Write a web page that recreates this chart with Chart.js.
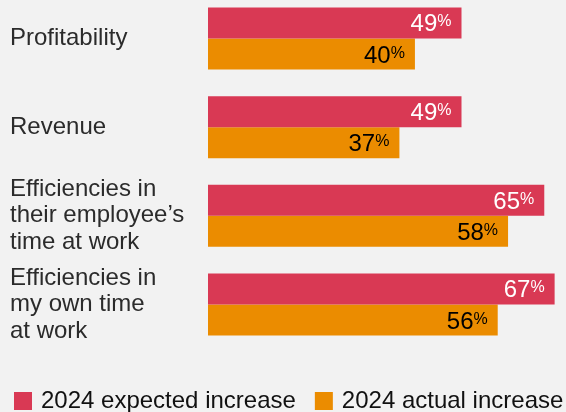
<!DOCTYPE html>
<html>
<head>
<meta charset="utf-8">
<script src="https://cdn.jsdelivr.net/npm/chart.js@4/dist/chart.umd.min.js"></script>
<style>
html, body { margin: 0; padding: 0; background: #f2f2f2; }
#wrap { width: 566px; height: 412px; position: relative; }
</style>
</head>
<body>
<div id="wrap"><canvas id="myChart"></canvas></div>
<script>
var categories = [
    ['Profitability'],
    ['Revenue'],
    ['Efficiencies in', 'their employee’s', 'time at work'],
    ['Efficiencies in', 'my own time', 'at work']
];
var expected = [49, 49, 65, 67];
var actual = [40, 37, 58, 56];

var FONT = '"Liberation Sans", Arial, Helvetica, sans-serif';
Chart.defaults.font.family = FONT;

// number + small raised % at the end of each bar
var valueLabels = {
    id: 'valueLabels',
    afterDatasetsDraw: function(chart) {
        var ctx = chart.ctx;
        chart.data.datasets.forEach(function(ds, i) {
            chart.getDatasetMeta(i).data.forEach(function(bar, j) {
                var right = bar.x - 10;
                var base = bar.y + 8.5;
                ctx.save();
                ctx.fillStyle = ds.labelColor;
                ctx.textAlign = 'right';
                ctx.textBaseline = 'alphabetic';
                ctx.font = '16px ' + FONT;
                var pw = ctx.measureText('%').width;
                ctx.fillText('%', right, base - 5);
                ctx.font = '24px ' + FONT;
                ctx.fillText(String(ds.data[j]), right - pw, base);
                ctx.restore();
            });
        });
    }
};

// legend row along the bottom edge
var legendRow = {
    id: 'legendRow',
    afterDraw: function(chart) {
        var ctx = chart.ctx;
        var x = 14;
        var y = chart.height - 11;
        ctx.save();
        ctx.font = '24px ' + FONT;
        ctx.textBaseline = 'middle';
        ctx.textAlign = 'left';
        chart.data.datasets.forEach(function(ds) {
            ctx.fillStyle = ds.backgroundColor;
            ctx.fillRect(x, y - 9, 18, 18);
            ctx.fillStyle = '#111111';
            ctx.fillText(ds.label, x + 27, y);
            x += 27 + ctx.measureText(ds.label).width + 19;
        });
        ctx.restore();
    }
};

var ctx = document.getElementById('myChart').getContext('2d');
var myChart = new Chart(ctx, {
    type: 'bar',
    data: {
        labels: categories,
        datasets: [
            {
                label: '2024 expected increase',
                data: expected,
                backgroundColor: '#d93954',
                labelColor: '#ffffff'
            },
            {
                label: '2024 actual increase',
                data: actual,
                backgroundColor: '#eb8c00',
                labelColor: '#000000'
            }
        ]
    },
    options: {
        indexAxis: 'y',
        responsive: true,
        maintainAspectRatio: false,
        animation: false,
        datasets: {
            bar: {
                categoryPercentage: 0.7,
                barPercentage: 1.0,
                clip: false
            }
        },
        layout: {
            padding: { top: 38.5, left: 10, right: 0, bottom: 0 }
        },
        plugins: {
            tooltip: { enabled: false },
            legend: { display: false }
        },
        scales: {
            x: {
                min: 0,
                max: 69.2,
                grid: { display: false },
                border: { display: false },
                ticks: { display: false },
                afterFit: function(scale) { scale.height = 107.5; }
            },
            y: {
                offset: false,
                grid: { display: false },
                border: { display: false },
                ticks: {
                    crossAlign: 'far',
                    color: '#2b2b2b',
                    font: { size: 24, lineHeight: 1.1 }
                },
                afterFit: function(scale) {
                    scale.width = 198;
                    scale.paddingTop = 0;
                    scale.paddingBottom = 0;
                }
            }
        }
    },
    plugins: [valueLabels, legendRow]
});
</script>
</body>
</html>
